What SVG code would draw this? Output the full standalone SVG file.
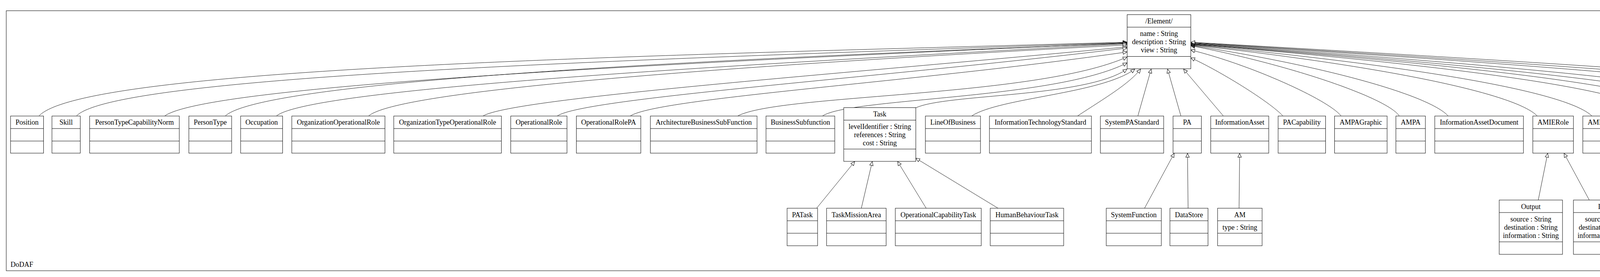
<svg xmlns="http://www.w3.org/2000/svg" width="5380" height="709" viewBox="0 0 5380 709">
<defs>
<style>
.box{fill:#fff;stroke:#000;stroke-width:1}
.sep{stroke:#000;stroke-width:1}
.frame{fill:none;stroke:#000;stroke-width:1}
text{font-family:"Liberation Serif","Times New Roman",serif;font-size:18px;fill:#000}
.c{text-anchor:middle}
.edge{fill:none;stroke:#000;stroke-width:0.9;marker-end:url(#gen)}
</style>
<marker id="gen" markerWidth="12" markerHeight="11" refX="11" refY="5.5" orient="auto" markerUnits="userSpaceOnUse">
<path d="M1,1 L11,5.5 L1,10 z" fill="#fff" stroke="#000" stroke-width="1"/>
</marker>
</defs>
<rect width="5380" height="709" fill="#fff"/>
<g id="DoDAF-package">
<rect class="frame" x="16" y="27.5" width="5204" height="665.5"/>
<text x="27" y="683">DoDAF</text>
</g>
<g id="connectors">
<path class="edge" d="M100,296.5 C220,170 1685,142 2885,108"/>
<path class="edge" d="M196,296.5 C300,190 1700,150 2885,109"/>
<path class="edge" d="M422,296.5 C540,215 1800,158 2885,110"/>
<path class="edge" d="M577,296.5 C680,205 1850,150 2885,111"/>
<path class="edge" d="M708,296.5 C800,225 1900,165 2885,112"/>
<path class="edge" d="M944,296.5 C1030,225 2000,162 2885,115"/>
<path class="edge" d="M1237,296.5 C1320,250 2150,190 2885,120"/>
<path class="edge" d="M1427,296.5 C1500,250 2250,200 2885,123"/>
<path class="edge" d="M1614,296.5 C1690,250 2350,210 2885,133"/>
<path class="edge" d="M1889,296.5 C2000,240 2650,250 2885,146"/>
<path class="edge" d="M2106,296.5 C2180,250 2700,255 2885,161"/>
<path class="edge" d="M2344.5,276 C2420,240 2780,250 2885,177"/>
<path class="edge" d="M2488,296.5 C2560,250 2820,240 2905,177"/>
<path class="edge" d="M2759,296.5 C2830,250 2890,215 2920,177"/>
<path class="edge" d="M2913,296.5 L2947,177"/>
<path class="edge" d="M3023,296.5 L2989,177"/>
<path class="edge" d="M3131.5,296.5 L3030,177"/>
<path class="edge" d="M3284,296.5 C3250,260 3120,180 3048.5,148"/>
<path class="edge" d="M3433,296.5 C3400,255 3200,165 3048.5,128"/>
<path class="edge" d="M3582,296.5 C3550,250 3300,165 3048.5,117"/>
<path class="edge" d="M3707,296.5 C3660,245 3400,170 3048.5,116"/>
<path class="edge" d="M3935,296.5 C3880,240 3550,170 3048.5,115"/>
<path class="edge" d="M4075,296.5 C4010,236 3650,172 3048.5,114"/>
<path class="edge" d="M4248,296.5 C4190,234 3800,175 3048.5,113"/>
<path class="edge" d="M4346,296.5 C4290,232 3880,176 3048.5,113"/>
<path class="edge" d="M4464,296.5 C4400,230 3950,178 3048.5,112"/>
<path class="edge" d="M4581,296.5 C4500,228 4050,180 3048.5,111"/>
<path class="edge" d="M4786,296.5 C4700,226 4200,183 3048.5,110"/>
<path class="edge" d="M4957,296.5 C4860,226 4300,185 3048.5,109"/>
<path class="edge" d="M5096,296.5 C4990,225 4400,185 3048.5,108"/>
<path class="edge" d="M2090.5,533 L2188,413.5"/>
<path class="edge" d="M2205,533 L2233,413.5"/>
<path class="edge" d="M2371,533 L2298,413.5"/>
<path class="edge" d="M2555,533 L2344.5,405"/>
<path class="edge" d="M2930,533 L3006,392.5"/>
<path class="edge" d="M3041.5,533 L3040,392.5"/>
<path class="edge" d="M3172,533 L3173.5,392.5"/>
<path class="edge" d="M3938,512 L3962,392.5"/>
<path class="edge" d="M4068.5,512 L4004,392.5"/>
<path class="edge" d="M4686,533 C4760,470 4920,450 4955,392.5"/>
<path class="edge" d="M4862,533 L4959,392.5"/>
<path class="edge" d="M5063,533 L5016,392.5"/>
</g>
<g id="Element">
<rect class="box" x="2885.5" y="37.5" width="163" height="138.5"/>
<line class="sep" x1="2885.5" y1="69.5" x2="3048.5" y2="69.5"/>
<line class="sep" x1="2885.5" y1="144.5" x2="3048.5" y2="144.5"/>
<text class="c" x="2967" y="60">/Element/</text>
<text class="c" x="2967" y="92">name : String</text>
<text class="c" x="2967" y="113">description : String</text>
<text class="c" x="2967" y="134">view : String</text>
</g>
<g id="Position"><rect class="box" x="27" y="297" width="84.5" height="95"/><line class="sep" x1="27" y1="329" x2="111.5" y2="329"/><line class="sep" x1="27" y1="361" x2="111.5" y2="361"/><text class="c" x="69.25" y="319">Position</text></g>
<g id="Skill"><rect class="box" x="133" y="297" width="72.5" height="95"/><line class="sep" x1="133" y1="329" x2="205.5" y2="329"/><line class="sep" x1="133" y1="361" x2="205.5" y2="361"/><text class="c" x="169.25" y="319">Skill</text></g>
<g id="PersonTypeCapabilityNorm"><rect class="box" x="229.5" y="297" width="229.5" height="95"/><line class="sep" x1="229.5" y1="329" x2="459" y2="329"/><line class="sep" x1="229.5" y1="361" x2="459" y2="361"/><text class="c" x="344.25" y="319">PersonTypeCapabilityNorm</text></g>
<g id="PersonType"><rect class="box" x="483.5" y="297" width="109.5" height="95"/><line class="sep" x1="483.5" y1="329" x2="593" y2="329"/><line class="sep" x1="483.5" y1="361" x2="593" y2="361"/><text class="c" x="538.25" y="319">PersonType</text></g>
<g id="Occupation"><rect class="box" x="616" y="297" width="107.5" height="95"/><line class="sep" x1="616" y1="329" x2="723.5" y2="329"/><line class="sep" x1="616" y1="361" x2="723.5" y2="361"/><text class="c" x="669.75" y="319">Occupation</text></g>
<g id="OrganizationOperationalRole"><rect class="box" x="747" y="297" width="238.5" height="95"/><line class="sep" x1="747" y1="329" x2="985.5" y2="329"/><line class="sep" x1="747" y1="361" x2="985.5" y2="361"/><text class="c" x="866.25" y="319">OrganizationOperationalRole</text></g>
<g id="OrganizationTypeOperationalRole"><rect class="box" x="1008" y="297" width="275.5" height="95"/><line class="sep" x1="1008" y1="329" x2="1283.5" y2="329"/><line class="sep" x1="1008" y1="361" x2="1283.5" y2="361"/><text class="c" x="1145.75" y="319">OrganizationTypeOperationalRole</text></g>
<g id="OperationalRole"><rect class="box" x="1307.5" y="297" width="144" height="95"/><line class="sep" x1="1307.5" y1="329" x2="1451.5" y2="329"/><line class="sep" x1="1307.5" y1="361" x2="1451.5" y2="361"/><text class="c" x="1379.5" y="319">OperationalRole</text></g>
<g id="OperationalRolePA"><rect class="box" x="1475.5" y="297" width="165" height="95"/><line class="sep" x1="1475.5" y1="329" x2="1640.5" y2="329"/><line class="sep" x1="1475.5" y1="361" x2="1640.5" y2="361"/><text class="c" x="1558" y="319">OperationalRolePA</text></g>
<g id="ArchitectureBusinessSubFunction"><rect class="box" x="1665" y="297" width="273" height="95"/><line class="sep" x1="1665" y1="329" x2="1938" y2="329"/><line class="sep" x1="1665" y1="361" x2="1938" y2="361"/><text class="c" x="1801.5" y="319">ArchitectureBusinessSubFunction</text></g>
<g id="BusinessSubfunction"><rect class="box" x="1961" y="297" width="176" height="95"/><line class="sep" x1="1961" y1="329" x2="2137" y2="329"/><line class="sep" x1="1961" y1="361" x2="2137" y2="361"/><text class="c" x="2049" y="319">BusinessSubfunction</text></g>
<g id="Task"><rect class="box" x="2160" y="275.5" width="184.5" height="137.5"/><line class="sep" x1="2160" y1="307.5" x2="2344.5" y2="307.5"/><line class="sep" x1="2160" y1="381.5" x2="2344.5" y2="381.5"/><text class="c" x="2252.25" y="297.5">Task</text><text class="c" x="2252.25" y="329.5">levelIdentifier : String</text><text class="c" x="2252.25" y="350.5">references : String</text><text class="c" x="2252.25" y="371.5">cost : String</text></g>
<g id="LineOfBusiness"><rect class="box" x="2369" y="297" width="141" height="95"/><line class="sep" x1="2369" y1="329" x2="2510" y2="329"/><line class="sep" x1="2369" y1="361" x2="2510" y2="361"/><text class="c" x="2439.5" y="319">LineOfBusiness</text></g>
<g id="InformationTechnologyStandard"><rect class="box" x="2533" y="297" width="261" height="95"/><line class="sep" x1="2533" y1="329" x2="2794" y2="329"/><line class="sep" x1="2533" y1="361" x2="2794" y2="361"/><text class="c" x="2663.5" y="319">InformationTechnologyStandard</text></g>
<g id="SystemPAStandard"><rect class="box" x="2817" y="297" width="162" height="95"/><line class="sep" x1="2817" y1="329" x2="2979" y2="329"/><line class="sep" x1="2817" y1="361" x2="2979" y2="361"/><text class="c" x="2898" y="319">SystemPAStandard</text></g>
<g id="PA"><rect class="box" x="3003" y="297" width="72.5" height="95"/><line class="sep" x1="3003" y1="329" x2="3075.5" y2="329"/><line class="sep" x1="3003" y1="361" x2="3075.5" y2="361"/><text class="c" x="3039.25" y="319">PA</text></g>
<g id="InformationAsset"><rect class="box" x="3099.5" y="297" width="148.5" height="95"/><line class="sep" x1="3099.5" y1="329" x2="3248" y2="329"/><line class="sep" x1="3099.5" y1="361" x2="3248" y2="361"/><text class="c" x="3173.75" y="319">InformationAsset</text></g>
<g id="PACapability"><rect class="box" x="3272" y="297" width="121.5" height="95"/><line class="sep" x1="3272" y1="329" x2="3393.5" y2="329"/><line class="sep" x1="3272" y1="361" x2="3393.5" y2="361"/><text class="c" x="3332.75" y="319">PACapability</text></g>
<g id="AMPAGraphic"><rect class="box" x="3416.5" y="297" width="134.5" height="95"/><line class="sep" x1="3416.5" y1="329" x2="3551" y2="329"/><line class="sep" x1="3416.5" y1="361" x2="3551" y2="361"/><text class="c" x="3483.75" y="319">AMPAGraphic</text></g>
<g id="AMPA"><rect class="box" x="3573.5" y="297" width="75.5" height="95"/><line class="sep" x1="3573.5" y1="329" x2="3649" y2="329"/><line class="sep" x1="3573.5" y1="361" x2="3649" y2="361"/><text class="c" x="3611.25" y="319">AMPA</text></g>
<g id="InformationAssetDocument"><rect class="box" x="3673" y="297" width="227" height="95"/><line class="sep" x1="3673" y1="329" x2="3900" y2="329"/><line class="sep" x1="3673" y1="361" x2="3900" y2="361"/><text class="c" x="3786.5" y="319">InformationAssetDocument</text></g>
<g id="AMIERole"><rect class="box" x="3924" y="297" width="104" height="95"/><line class="sep" x1="3924" y1="329" x2="4028" y2="329"/><line class="sep" x1="3924" y1="361" x2="4028" y2="361"/><text class="c" x="3976" y="319">AMIERole</text></g>
<g id="AMIERoleGraphic"><rect class="box" x="4052" y="297" width="163" height="95"/><line class="sep" x1="4052" y1="329" x2="4215" y2="329"/><line class="sep" x1="4052" y1="361" x2="4215" y2="361"/><text class="c" x="4133.5" y="319">AMIERoleGraphic</text></g>
<g id="IE"><rect class="box" x="4237.5" y="297" width="71.5" height="95"/><line class="sep" x1="4237.5" y1="329" x2="4309" y2="329"/><line class="sep" x1="4237.5" y1="361" x2="4309" y2="361"/><text class="c" x="4273.25" y="319">IE</text></g>
<g id="SystemPA"><rect class="box" x="4333.5" y="297" width="97.5" height="95"/><line class="sep" x1="4333.5" y1="329" x2="4431" y2="329"/><line class="sep" x1="4333.5" y1="361" x2="4431" y2="361"/><text class="c" x="4382.25" y="319">SystemPA</text></g>
<g id="System"><rect class="box" x="4453" y="297" width="76" height="95"/><line class="sep" x1="4453" y1="329" x2="4529" y2="329"/><line class="sep" x1="4453" y1="361" x2="4529" y2="361"/><text class="c" x="4491" y="319">System</text></g>
<g id="ArchitectureDocument"><rect class="box" x="4552" y="297" width="191" height="95"/><line class="sep" x1="4552" y1="329" x2="4743" y2="329"/><line class="sep" x1="4552" y1="361" x2="4743" y2="361"/><text class="c" x="4647.5" y="319">ArchitectureDocument</text></g>
<g id="SystemDocument"><rect class="box" x="4765" y="297" width="152" height="95"/><line class="sep" x1="4765" y1="329" x2="4917" y2="329"/><line class="sep" x1="4765" y1="361" x2="4917" y2="361"/><text class="c" x="4841" y="319">SystemDocument</text></g>
<g id="Document"><rect class="box" x="4941.5" y="297" width="113.5" height="95"/><line class="sep" x1="4941.5" y1="329" x2="5055" y2="329"/><line class="sep" x1="4941.5" y1="361" x2="5055" y2="361"/><text class="c" x="4998.25" y="319">Document</text><text class="c" x="4998.25" y="351.5">type : String</text></g>
<g id="DoDAFModel"><rect class="box" x="5077" y="297" width="131" height="95"/><line class="sep" x1="5077" y1="329" x2="5208" y2="329"/><line class="sep" x1="5077" y1="361" x2="5208" y2="361"/><text class="c" x="5142.5" y="319">DoDAFModel</text></g>
<g id="PATask"><rect class="box" x="2015" y="533" width="78" height="96"/><line class="sep" x1="2015" y1="565" x2="2093" y2="565"/><line class="sep" x1="2015" y1="597" x2="2093" y2="597"/><text class="c" x="2054" y="555.5">PATask</text></g>
<g id="TaskMissionArea"><rect class="box" x="2116" y="533" width="152.5" height="96"/><line class="sep" x1="2116" y1="565" x2="2268.5" y2="565"/><line class="sep" x1="2116" y1="597" x2="2268.5" y2="597"/><text class="c" x="2192.25" y="555.5">TaskMissionArea</text></g>
<g id="OperationalCapabilityTask"><rect class="box" x="2292" y="533" width="220" height="96"/><line class="sep" x1="2292" y1="565" x2="2512" y2="565"/><line class="sep" x1="2292" y1="597" x2="2512" y2="597"/><text class="c" x="2402" y="555.5">OperationalCapabilityTask</text></g>
<g id="HumanBehaviourTask"><rect class="box" x="2535" y="533" width="188" height="96"/><line class="sep" x1="2535" y1="565" x2="2723" y2="565"/><line class="sep" x1="2535" y1="597" x2="2723" y2="597"/><text class="c" x="2629" y="555.5">HumanBehaviourTask</text></g>
<g id="SystemFunction"><rect class="box" x="2832" y="533" width="141" height="96"/><line class="sep" x1="2832" y1="565" x2="2973" y2="565"/><line class="sep" x1="2832" y1="597" x2="2973" y2="597"/><text class="c" x="2902.5" y="555.5">SystemFunction</text></g>
<g id="DataStore"><rect class="box" x="2995" y="533" width="97.5" height="96"/><line class="sep" x1="2995" y1="565" x2="3092.5" y2="565"/><line class="sep" x1="2995" y1="597" x2="3092.5" y2="597"/><text class="c" x="3043.75" y="555.5">DataStore</text></g>
<g id="AM"><rect class="box" x="3117" y="533" width="114" height="96"/><line class="sep" x1="3117" y1="565" x2="3231" y2="565"/><line class="sep" x1="3117" y1="597" x2="3231" y2="597"/><text class="c" x="3174" y="555.5">AM</text><text class="c" x="3174" y="587.5">type : String</text></g>
<g id="Output"><rect class="box" x="3838" y="512" width="162" height="139"/><line class="sep" x1="3838" y1="544" x2="4000" y2="544"/><line class="sep" x1="3838" y1="619" x2="4000" y2="619"/><text class="c" x="3919" y="534.5">Output</text><text class="c" x="3919" y="566.5">source : String</text><text class="c" x="3919" y="587.5">destination : String</text><text class="c" x="3919" y="608.5">information : String</text></g>
<g id="Input"><rect class="box" x="4028" y="512" width="164" height="139"/><line class="sep" x1="4028" y1="544" x2="4192" y2="544"/><line class="sep" x1="4028" y1="619" x2="4192" y2="619"/><text class="c" x="4110" y="534.5">Input</text><text class="c" x="4110" y="566.5">source : String</text><text class="c" x="4110" y="587.5">destination : String</text><text class="c" x="4110" y="608.5">information : String</text></g>
<g id="AMSpecification"><rect class="box" x="4556" y="533" width="148" height="96"/><line class="sep" x1="4556" y1="565" x2="4704" y2="565"/><line class="sep" x1="4556" y1="597" x2="4704" y2="597"/><text class="c" x="4630" y="555.5">AMSpecification</text></g>
<g id="FunctionalSpecification"><rect class="box" x="4728" y="533" width="197" height="96"/><line class="sep" x1="4728" y1="565" x2="4925" y2="565"/><line class="sep" x1="4728" y1="597" x2="4925" y2="597"/><text class="c" x="4826.5" y="555.5">FunctionalSpecification</text></g>
<g id="SystemFunctionalityDescription"><rect class="box" x="4949" y="533" width="259" height="96"/><line class="sep" x1="4949" y1="565" x2="5208" y2="565"/><line class="sep" x1="4949" y1="597" x2="5208" y2="597"/><text class="c" x="5078.5" y="555.5">SystemFunctionalityDescription</text></g>
<g id="PrimitiveTypes">
<rect class="frame" x="5229.5" y="528.5" width="135" height="138"/>
<text class="c" x="5297" y="656.5">PrimitiveTypes</text>
</g>
<g id="String">
<rect class="box" x="5240.5" y="539.5" width="112" height="84.5"/>
<line class="sep" x1="5240.5" y1="592.5" x2="5352.5" y2="592.5"/>
<text class="c" x="5296.5" y="561">«DataType»</text>
<text class="c" x="5296.5" y="582.5">String</text>
</g>
</svg>
